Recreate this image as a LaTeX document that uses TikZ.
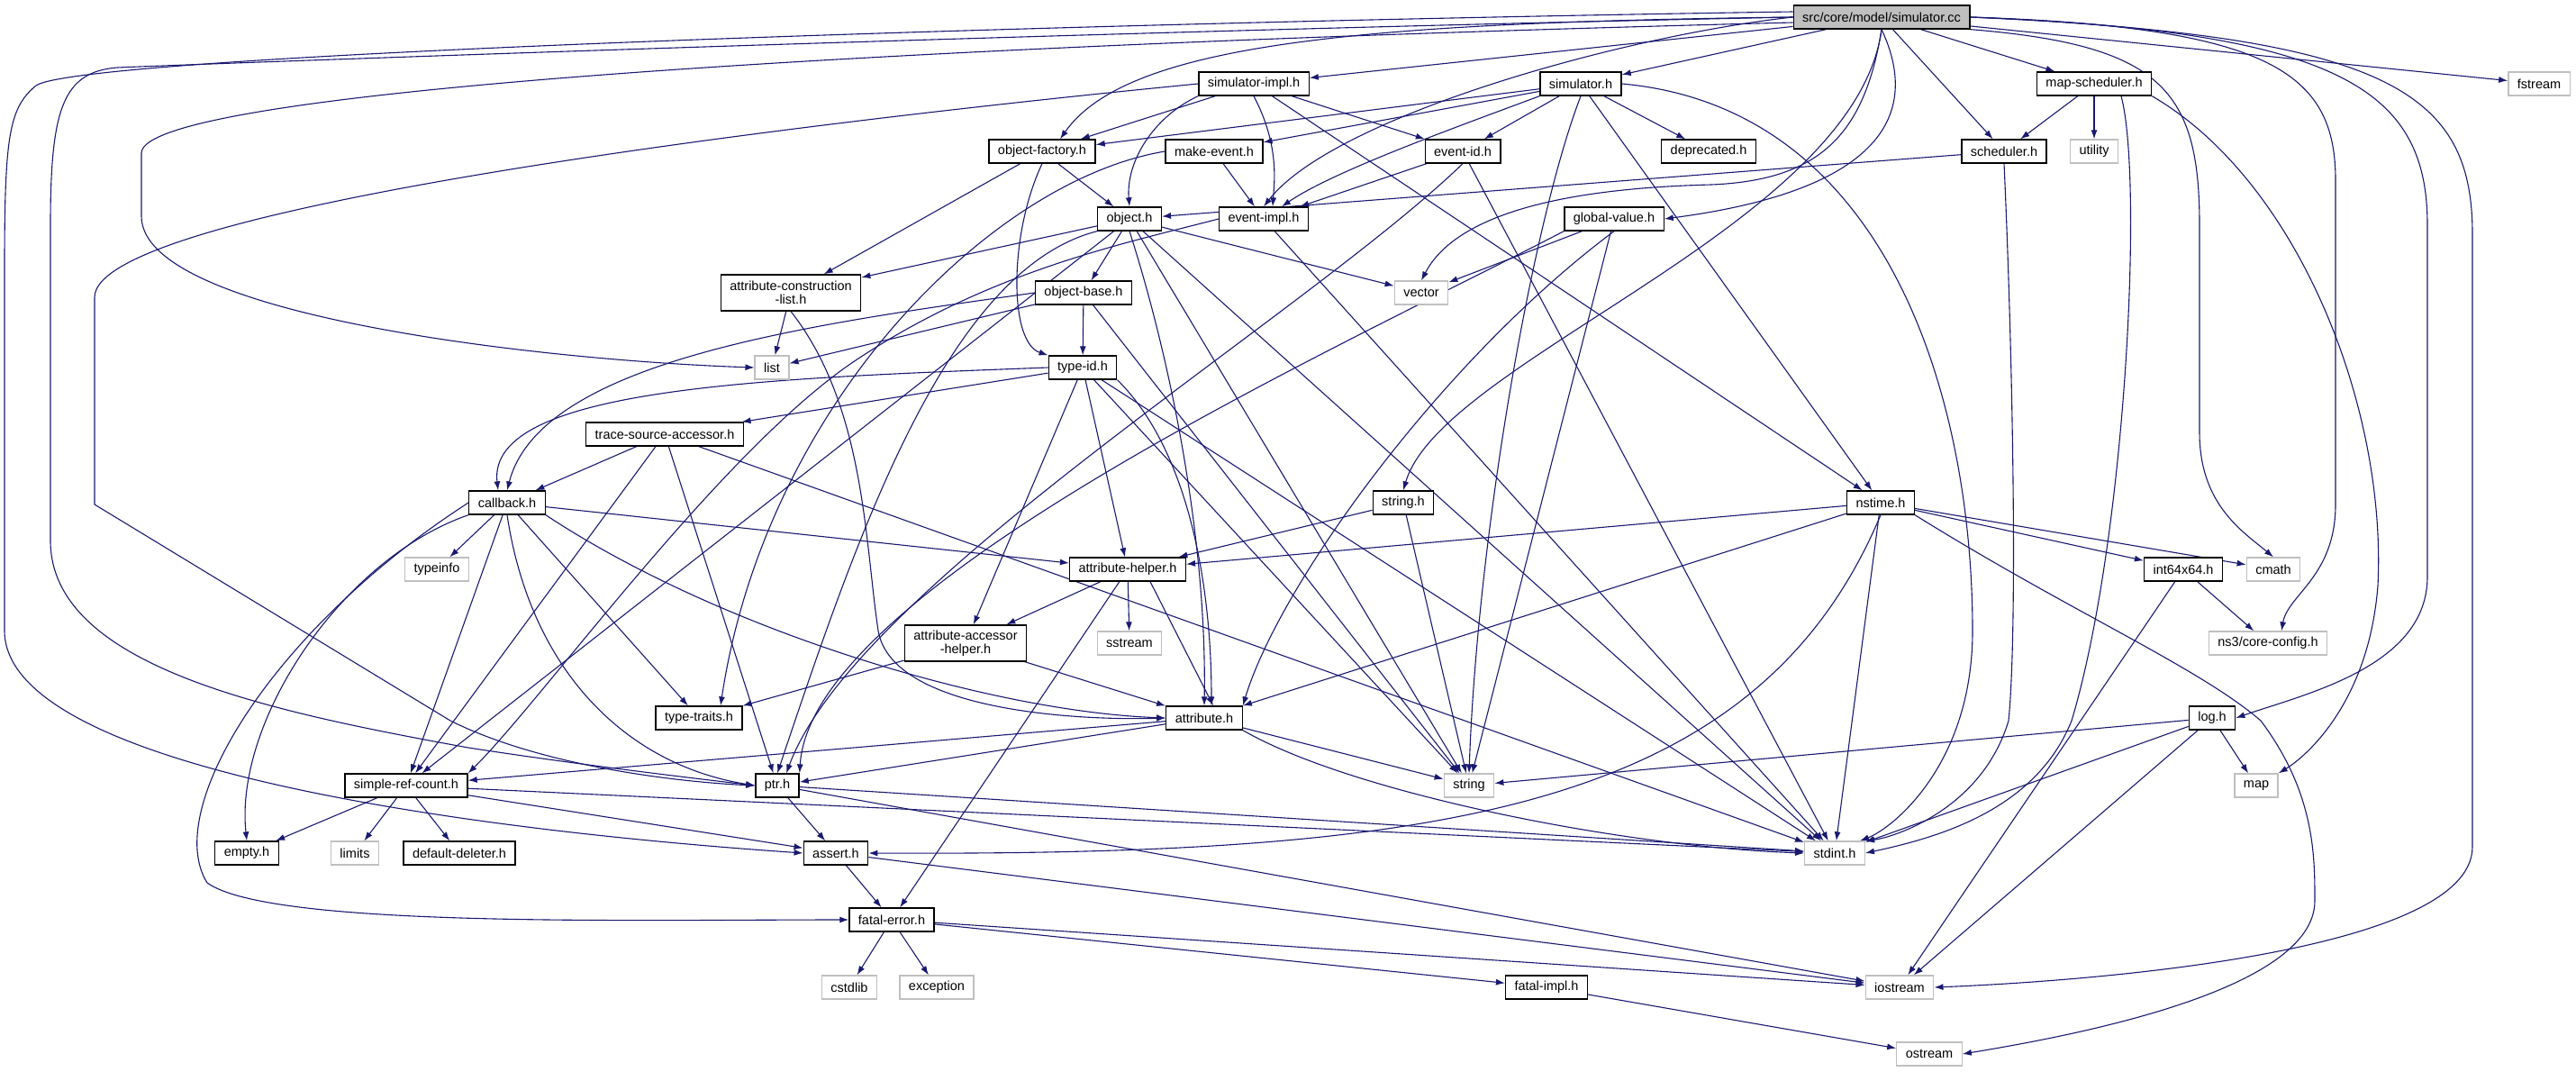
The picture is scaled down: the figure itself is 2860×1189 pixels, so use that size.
\documentclass[tikz,border=0pt]{standalone}
\usepackage{fontspec}
\setmainfont{Liberation Sans}
\usetikzlibrary{arrows.meta}
\pgfdeclarelayer{bg}
\pgfsetlayers{bg,main}
\definecolor{edgeblue}{HTML}{191970}
\definecolor{sysgray}{HTML}{BFBFBF}
\tikzset{
  hdr/.style={draw=black, fill=white, line width=1.3pt, minimum height=26pt, inner xsep=10pt, inner ysep=0pt, font=\fontsize{14.5}{15}\selectfont},
  syshdr/.style={hdr, draw=sysgray},
  roothdr/.style={hdr, fill=sysgray},
  twoline/.style={align=center, minimum height=40pt},
  incl/.style={draw=edgeblue, line width=1.1pt, -{Latex[length=10pt,width=7pt]}}
}
\begin{document}
\begin{tikzpicture}[x=1pt, y=-1pt]
\useasboundingbox (0,0) rectangle (2860,1189);

\node[roothdr] (root) at (2089,19) {src/core/model/simulator.cc};
\node[hdr] (simimpl) at (1392,93) {simulator-impl.h};
\node[hdr] (simh) at (1755,93) {simulator.h};
\node[hdr] (mapsched) at (2325,93) {map-scheduler.h};
\node[syshdr] (fstream) at (2819,93) {fstream};
\node[hdr] (objfac) at (1157,168) {object-factory.h};
\node[hdr] (mkevent) at (1348,168) {make-event.h};
\node[hdr] (evid) at (1624,168) {event-id.h};
\node[hdr] (depr) at (1897,168) {deprecated.h};
\node[hdr] (sched) at (2225,168) {scheduler.h};
\node[syshdr] (utility) at (2325,168) {utility};
\node[hdr] (obj) at (1254,243) {object.h};
\node[hdr] (evimpl) at (1403,243) {event-impl.h};
\node[hdr] (gval) at (1792,243) {global-value.h};
\node[hdr, twoline] (acl) at (878,325) {attribute-construction\\-list.h};
\node[hdr] (objbase) at (1203,325) {object-base.h};
\node[syshdr] (vector) at (1578,325) {vector};
\node[syshdr] (list) at (857,408) {list};
\node[hdr] (typeid) at (1202,408) {type-id.h};
\node[hdr] (tsa) at (738,482) {trace-source-accessor.h};
\node[hdr] (cb) at (563,558) {callback.h};
\node[hdr] (strh) at (1558,558) {string.h};
\node[hdr] (nstime) at (2088,558) {nstime.h};
\node[syshdr] (typeinfo) at (485,632) {typeinfo};
\node[hdr] (ahelp) at (1252,632) {attribute-helper.h};
\node[hdr] (i64) at (2424,632) {int64x64.h};
\node[syshdr] (cmath) at (2524,632) {cmath};
\node[hdr, twoline] (aacc) at (1072,714) {attribute-accessor\\-helper.h};
\node[syshdr] (sstream) at (1254,714) {sstream};
\node[syshdr] (corecfg) at (2518,714) {ns3/core-config.h};
\node[hdr] (ttraits) at (776,797) {type-traits.h};
\node[hdr] (attr) at (1337,797) {attribute.h};
\node[hdr] (logh) at (2456,797) {log.h};
\node[hdr] (src) at (451,872) {simple-ref-count.h};
\node[hdr] (ptr) at (863,872) {ptr.h};
\node[syshdr] (string) at (1631,872) {string};
\node[syshdr] (map) at (2505,872) {map};
\node[hdr] (empty) at (274,947) {empty.h};
\node[syshdr] (limits) at (394,947) {limits};
\node[hdr] (ddel) at (510,947) {default-deleter.h};
\node[hdr] (assert) at (928,947) {assert.h};
\node[syshdr] (stdint) at (2037,947) {stdint.h};
\node[hdr] (ferr) at (990,1021) {fatal-error.h};
\node[syshdr] (cstdlib) at (943,1096) {cstdlib};
\node[syshdr] (exception) at (1040,1096) {exception};
\node[hdr] (fimpl) at (1717,1096) {fatal-impl.h};
\node[syshdr] (iostream) at (2109,1096) {iostream};
\node[syshdr] (ostream) at (2142,1170) {ostream};

\begin{pgfonlayer}{bg}
% simulator.cc
\draw[incl] (root) -- (simimpl);
\draw[incl] (root) -- (simh);
\draw[incl] (root) -- (mapsched);
\draw[incl] (root) -- (fstream);
\draw[incl] (root) -- (sched);
\draw[incl] (root.west) .. controls (1500,25) and (1250,50) .. ([xshift=20pt]objfac.north);
\draw[incl] (root.west) .. controls (1800,40) and (1480,130) .. (evimpl.north);
\draw[incl] (root.south) .. controls (2130,120) and (2100,210) .. (gval.east);
\draw[incl] (root.south) .. controls (2060,250) and (1600,400) .. (strh.north);
\draw[incl] (root.south) .. controls (2070,150) and (2020,200) .. (1900,205) .. controls (1700,210) and (1610,250) .. (vector.north);
\draw[incl] (root.south east) .. controls (2400,50) and (2442,100) .. (2442,250) -- (2442,480) .. controls (2442,560) and (2490,590) .. (cmath.north);
\draw[incl] (root.east) .. controls (2520,30) and (2593,80) .. (2593,200) -- (2593,560) .. controls (2593,640) and (2540,660) .. ([xshift=15pt]corecfg.north);
\draw[incl] (root.east) .. controls (2600,35) and (2695,100) .. (2695,250) -- (2695,640) .. controls (2695,740) and (2560,770) .. (logh.east);
\draw[incl] (root.east) .. controls (2650,40) and (2745,100) .. (2745,260) -- (2745,940) .. controls (2745,1060) and (2300,1090) .. (iostream.east);
\draw[incl] ([yshift=-6pt]root.west) .. controls (1000,50) and (157,100) .. (157,170) -- (157,240) .. controls (157,350) and (600,400) .. (list.west);
\draw[incl] (root.west) .. controls (1200,35) and (250,70) .. (130,75) .. controls (70,80) and (56,120) .. (56,250) -- (56,600) .. controls (56,740) and (300,790) .. (520,830) .. controls (650,850) and (780,865) .. (ptr.west);
\draw[incl] ([yshift=6pt]root.west) .. controls (1200,25) and (90,60) .. (40,95) .. controls (10,120) and (5,150) .. (5,300) -- (5,700) .. controls (5,850) and (500,920) .. (assert.west);

\draw[incl] (simimpl) -- (objfac);
\draw[incl] (simimpl.south west) .. controls (1280,130) and (1250,180) .. (obj.north);
\draw[incl] (simimpl.south) .. controls (1420,160) and (1415,200) .. ([xshift=10pt]evimpl.north);
\draw[incl] (simimpl) -- (evid);
\draw[incl] (simimpl) -- (nstime);
\draw[incl] (simimpl.west) .. controls (900,135) and (105,230) .. (105,330) -- (105,560) -- (500,800) .. controls (600,850) and (750,868) .. (ptr.west);

\draw[incl] (simh) -- (objfac);
\draw[incl] (simh) -- (mkevent);
\draw[incl] (simh.south west) .. controls (1620,140) and (1480,190) .. ([xshift=20pt]evimpl.north);
\draw[incl] (simh) -- (evid);
\draw[incl] (simh) -- (depr);
\draw[incl] (simh) -- (nstime);
\draw[incl] (simh.east) .. controls (2100,120) and (2190,450) .. (2190,700) .. controls (2190,850) and (2100,920) .. ([xshift=-6pt]stdint.north east);
\draw[incl] (simh.south) .. controls (1700,250) and (1640,600) .. (string.north);

\draw[incl] (mapsched) -- (sched);
\draw[incl] (mapsched) -- (utility);
\draw[incl] ([xshift=30pt]mapsched.south) .. controls (2380,200) and (2360,600) .. (2300,800) .. controls (2260,900) and (2150,930) .. (stdint.east);
\draw[incl] (mapsched.south east) .. controls (2550,200) and (2650,450) .. (2640,650) .. controls (2630,780) and (2560,840) .. (map.north east);

\draw[incl] (sched) -- (obj);
\draw[incl] (sched.south) .. controls (2235,400) and (2240,700) .. (2230,800) .. controls (2200,900) and (2100,930) .. (stdint.north east);

\draw[incl] (objfac) -- (acl);
\draw[incl] (objfac) -- (obj);
\draw[incl] (objfac.south) .. controls (1120,260) and (1120,380) .. (typeid.north west);

\draw[incl] (mkevent) -- (evimpl);
\draw[incl] (mkevent.west) .. controls (1100,200) and (850,450) .. ([xshift=24pt]ttraits.north);

\draw[incl] (evid) -- (evimpl);
\draw[incl] (evid.south) .. controls (1450,350) and (950,650) .. ([xshift=10pt]ptr.north);
\draw[incl] (evid) -- (stdint);

\draw[incl] (obj) -- (acl);
\draw[incl] (obj) -- (objbase);
\draw[incl] (obj) -- (vector);
\draw[incl] (obj) -- (src);
\draw[incl] (obj.south west) .. controls (1050,300) and (950,600) .. (ptr.north);
\draw[incl] (obj.south) .. controls (1300,400) and (1340,600) .. (attr.north);
\draw[incl] (obj) -- (string);
\draw[incl] (obj) -- (stdint);

\draw[incl] (evimpl.west) .. controls (1250,270) and (1100,300) .. (950,400) .. controls (800,500) and (600,780) .. (src.north east);
\draw[incl] (evimpl) -- (stdint);

\draw[incl] (gval) -- (vector);
\draw[incl] (gval.south west) .. controls (1500,380) and (900,650) .. (ptr.north east);
\draw[incl] (gval.south) .. controls (1600,400) and (1420,650) .. (attr.north east);
\draw[incl] (gval) -- (string);

\draw[incl] (acl) -- (list);
\draw[incl] (acl.south) .. controls (960,450) and (960,600) .. (975,700) .. controls (990,790) and (1200,800) .. (attr.west);

\draw[incl] (objbase) -- (list);
\draw[incl] (objbase) -- (typeid);
\draw[incl] (objbase.west) .. controls (900,360) and (600,400) .. (cb.north);
\draw[incl] (objbase) -- (string);

\draw[incl] (typeid) -- (tsa);
\draw[incl] (typeid.west) .. controls (850,420) and (540,430) .. ([xshift=-10pt]cb.north);
\draw[incl] (typeid) -- (ahelp);
\draw[incl] (typeid) -- (aacc);
\draw[incl] (typeid.south east) .. controls (1320,500) and (1345,650) .. ([xshift=8pt]attr.north);
\draw[incl] (typeid) -- (string);
\draw[incl] (typeid) -- (stdint);

\draw[incl] (tsa) -- (cb);
\draw[incl] (tsa) -- (src);
\draw[incl] (tsa) -- (ptr);
\draw[incl] (tsa) -- (stdint);

\draw[incl] (cb) -- (typeinfo);
\draw[incl] (cb) -- (ttraits);
\draw[incl] (cb) -- (ahelp);
\draw[incl] (cb.south east) .. controls (800,700) and (1100,790) .. (attr.west);
\draw[incl] (cb.south) .. controls (590,750) and (700,850) .. (ptr.west);
\draw[incl] (cb) -- (src);
\draw[incl] (cb.south west) .. controls (380,620) and (260,800) .. (empty.north);
\draw[incl] (cb.west) .. controls (300,700) and (180,900) .. (230,980) .. controls (300,1030) and (700,1021) .. (ferr.west);

\draw[incl] (strh) -- (ahelp);
\draw[incl] (strh) -- (string);

\draw[incl] (nstime) -- (ahelp);
\draw[incl] (nstime) -- (attr);
\draw[incl] (nstime.south) .. controls (1950,900) and (1600,950) .. (assert.east);
\draw[incl] (nstime) -- (stdint);
\draw[incl] (nstime) -- (i64);
\draw[incl] (nstime) -- (cmath);
\draw[incl] (nstime.south east) .. controls (2300,680) and (2440,740) .. (2510,800) .. controls (2570,880) and (2570,950) .. (2570,1000) .. controls (2570,1100) and (2300,1150) .. (ostream.east);

\draw[incl] (ahelp) -- (aacc);
\draw[incl] (ahelp) -- (sstream);
\draw[incl] ([xshift=25pt]ahelp.south) -- ([xshift=10pt]attr.north);
\draw[incl] (ahelp) -- (ferr);

\draw[incl] (aacc) -- (attr);
\draw[incl] (aacc) -- (ttraits);

\draw[incl] (attr) -- (src);
\draw[incl] (attr) -- (ptr);
\draw[incl] (attr) -- (string);
\draw[incl] (attr.south east) .. controls (1500,880) and (1800,940) .. (stdint.west);

\draw[incl] (i64) -- (corecfg);
\draw[incl] (i64) -- (iostream);

\draw[incl] (logh) -- (string);
\draw[incl] (logh) -- (stdint);
\draw[incl] (logh) -- (map);
\draw[incl] (logh) -- (iostream);

\draw[incl] (src) -- (empty);
\draw[incl] (src) -- (limits);
\draw[incl] (src) -- (ddel);
\draw[incl] (src) -- (assert);
\draw[incl] (src) -- (stdint);

\draw[incl] (ptr) -- (assert);
\draw[incl] (ptr) -- (stdint);
\draw[incl] (ptr) -- (iostream);

\draw[incl] (assert) -- (ferr);
\draw[incl] (assert) -- (iostream);

\draw[incl] (ferr) -- (cstdlib);
\draw[incl] (ferr) -- (exception);
\draw[incl] (ferr) -- (fimpl);
\draw[incl] (ferr) -- (iostream);

\draw[incl] (fimpl) -- (ostream);
\end{pgfonlayer}
\end{tikzpicture}
\end{document}
